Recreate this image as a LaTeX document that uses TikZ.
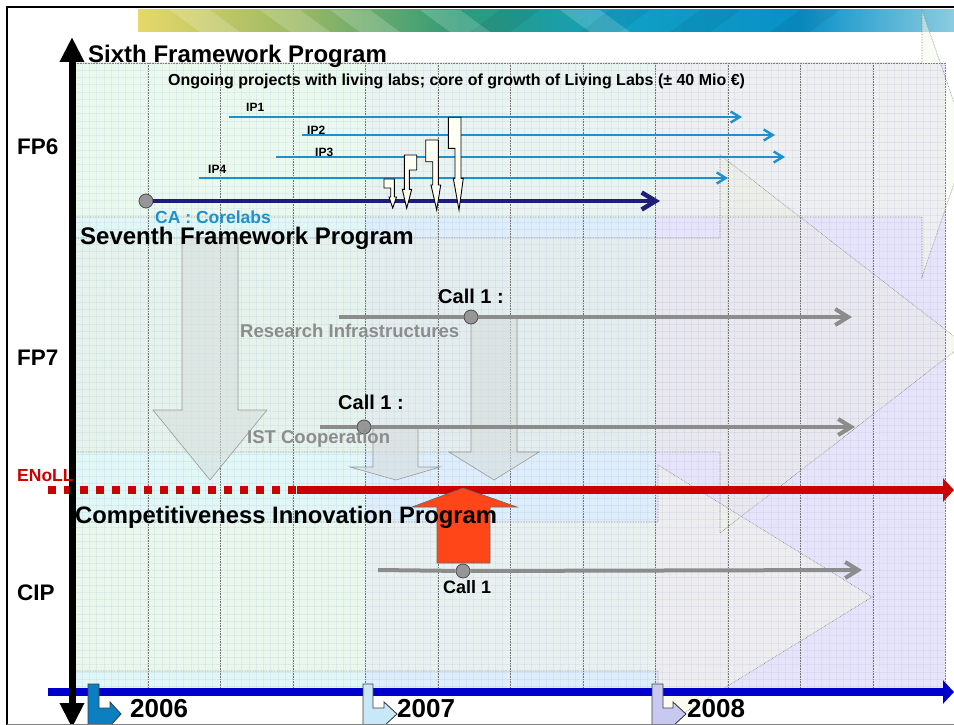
\documentclass[tikz,border=0pt]{standalone}
\usepackage{fontspec}
\setmainfont{Liberation Sans}
\usetikzlibrary{arrows.meta}
\definecolor{ipblue}{RGB}{30,144,208}
\definecolor{canavy}{RGB}{30,30,120}
\definecolor{callgray}{RGB}{140,140,140}
\definecolor{dotgray}{RGB}{150,150,150}
\definecolor{ennred}{RGB}{204,0,0}
\definecolor{axisblue}{RGB}{0,0,204}
\definecolor{cipred}{RGB}{255,70,25}
\definecolor{colA}{HTML}{E0F7F6}
\definecolor{colB}{HTML}{DEEDFA}
\definecolor{colC}{HTML}{E6E4FA}
\definecolor{fadegray}{HTML}{D6DEDC}
\definecolor{fsixfill}{HTML}{F4FBE8}
\definecolor{fsevenfill}{HTML}{ECEFE0}
\definecolor{cipfill}{HTML}{F6F8E2}
\definecolor{bnA}{HTML}{E6D86A}
\definecolor{bnB}{HTML}{9AB864}
\definecolor{bnC}{HTML}{2E9A78}
\definecolor{bnD}{HTML}{10A0C4}
\definecolor{bnE}{HTML}{0890C8}
\definecolor{bnF}{HTML}{8CCCE0}
\definecolor{ysixcol}{RGB}{10,128,192}
\definecolor{ysevencol}{RGB}{200,232,248}
\definecolor{yeightcol}{RGB}{200,200,240}
\newcommand\fsz[1]{\fontsize{#1}{#1}\selectfont\bfseries}
\begin{document}
\begin{tikzpicture}[x=1pt,y=-1pt,
    txt/.style={anchor=base west,inner sep=0pt,font=\fsz{#1}},
    ipline/.style={ipblue,line width=2.4,-{Straight Barb[length=9pt,width=11pt]}},
    callline/.style={callgray,line width=4},
    calltip/.style={-{Straight Barb[length=13pt,width=16pt]}},
    calldot/.style={circle,fill=dotgray,draw=black!70,line width=.8,minimum size=14pt,inner sep=0pt},
    bentarrow/.style={fill=yellow!4,draw=black,line width=.9},
    bigdown/.style={fill=fadegray,fill opacity=.6,draw=black!40,line width=.6},
    progbox/.style={draw=black!50,densely dotted,line width=.6},
    yearmark/.style={fill=#1,draw=black!75,line width=.9},
    gridline/.style={draw=blue!60!black,opacity=.045,line width=.7}]

    \fill[white] (0,0) rectangle (954,725);
    \useasboundingbox (0,0) rectangle (954,725);

    % banner
    \shade[left color=bnA,right color=bnB] (138,10) rectangle (300,32);
    \shade[left color=bnB,right color=bnC] (300,10) rectangle (460,32);
    \shade[left color=bnC,right color=bnD] (460,10) rectangle (620,32);
    \shade[left color=bnD,right color=bnE] (620,10) rectangle (800,32);
    \shade[left color=bnE,right color=bnF] (800,10) rectangle (954,32);
    \foreach \s in {170,260,330,420,560} \fill[white,opacity=.18] (\s,10) -- (\s+40,10) -- (\s+70,32) -- (\s+30,32) -- cycle;
    \foreach \s in {500,610,700,800} \fill[black,opacity=.06] (\s,10) -- (\s+40,10) -- (\s+10,32) -- (\s-30,32) -- cycle;

    % periods
    \fill[colA] (75,63) rectangle (366,690);
    \fill[colB] (366,63) rectangle (655,690);
    \fill[colC] (655,63) rectangle (945,690);
    \fill[fsixfill,fill opacity=.5] (75,63) -- (922,63) -- (922,10) -- (968,143) -- (922,277) -- (922,217) -- (75,217) -- cycle;
    \fill[fsevenfill,fill opacity=.45] (75,238) -- (720,238) -- (720,155) -- (964,344) -- (720,533) -- (720,452) -- (75,452) -- cycle;
    \fill[cipfill,fill opacity=.45] (75,522) -- (658,522) -- (658,465) -- (872,597) -- (658,729) -- (658,671) -- (75,671) -- cycle;
    \foreach \i in {0,...,120} \draw[gridline] ({75+7.25*\i},63) -- ({75+7.25*\i},690);
    \foreach \j in {0,...,86} \draw[gridline] (75,{63+7.25*\j}) -- (945,{63+7.25*\j});
    \foreach \k in {1,...,11} \draw[black!55,densely dotted,line width=.6] ({75.5+72.5*\k},63) -- ({75.5+72.5*\k},690);
    \draw[progbox] (75,63) -- (945,63) -- (945,690);
    \draw[progbox] (75,63) -- (922,63) -- (922,10) -- (968,143) -- (922,277) -- (922,217) -- (75,217);
    \draw[progbox] (75,238) -- (720,238) -- (720,155) -- (964,344) -- (720,533) -- (720,452) -- (75,452);
    \draw[progbox] (75,522) -- (658,522) -- (658,465) -- (872,597) -- (658,729) -- (658,671) -- (75,671);

    % faded down arrows
    \filldraw[bigdown] (182,238) -- (238,238) -- (238,410) -- (267,410) -- (210,480) -- (153,410) -- (182,410) -- cycle;
    \filldraw[bigdown] (471,317) -- (517,317) -- (517,452) -- (539,452) -- (494,480) -- (449,452) -- (471,452) -- cycle;
    \filldraw[bigdown] (373,427) -- (418,427) -- (418,467) -- (440,467) -- (396,480) -- (350,467) -- (373,467) -- cycle;

    % FP6
    \node[txt=24] (sixth) at (88,63) {Sixth Framework Program};
    \node[txt=16] (ongoing) at (168,85) {Ongoing projects with living labs; core of growth of Living Labs (± 40 Mio €)};
    \coordinate (ipone-s) at (229,117);   \coordinate (ipone-e) at (742,117);
    \coordinate (iptwo-s) at (302,135);   \coordinate (iptwo-e) at (775,135);
    \coordinate (ipthree-s) at (276,157); \coordinate (ipthree-e) at (785,157);
    \coordinate (ipfour-s) at (199,178);  \coordinate (ipfour-e) at (728,178);
    \draw[ipline] (ipone-s) -- (ipone-e);
    \draw[ipline] (iptwo-s) -- (iptwo-e);
    \draw[ipline] (ipthree-s) -- (ipthree-e);
    \draw[ipline] (ipfour-s) -- (ipfour-e);
    \node[txt=12] (ipone) at (246,112) {IP1};
    \node[txt=12] (iptwo) at (307,135) {IP2};
    \node[txt=12] (ipthree) at (315,157) {IP3};
    \node[txt=12] (ipfour) at (208,173) {IP4};
    \node[calldot] (cadot) at (146,201) {};
    \coordinate (ca-e) at (660,201);
    \draw[canavy,line width=4.5,-{Straight Barb[length=14pt,width=17pt]}] (cadot) -- (ca-e);
    \filldraw[bentarrow] (384,179) -- (394.3,179) -- (394.3,197) -- (396.5,197) -- (392.7,208) -- (389,197) -- (390.7,197) -- (390.7,188) -- (384,188) -- cycle;
    \filldraw[bentarrow] (404.3,155) -- (416.7,155) -- (416.7,170) -- (409.3,170) -- (409.3,189.3) -- (411.7,189.3) -- (406.7,208.3) -- (402.3,189.3) -- (404.3,189.3) -- cycle;
    \filldraw[bentarrow] (425.7,140) -- (438.3,140) -- (438.3,185) -- (440.7,185) -- (436.7,210) -- (431,185) -- (432.7,185) -- (432.7,161.7) -- (425.7,161.7) -- cycle;
    \filldraw[bentarrow] (448.3,117.3) -- (461,117.3) -- (461,178.3) -- (463.3,178.3) -- (459,210) -- (453.3,178.3) -- (455,178.3) -- (455,148.3) -- (448.3,148.3) -- cycle;
    \node[txt=17.5,text=ipblue] (calab) at (155,223) {CA : Corelabs};

    % FP7
    \node[txt=24] (seventh) at (80,244) {Seventh Framework Program};
    \coordinate (ri-s) at (339,317);  \coordinate (ri-e) at (852,317);
    \node[calldot] (ridot) at (471,317) {};
    \draw[callline] (ri-s) -- (ridot);
    \draw[callline,calltip] (ridot) -- (ri-e);
    \node[txt=20] (callri) at (438,303) {Call 1 :};
    \node[txt=18.5,text=callgray] (ritext) at (240,337) {Research Infrastructures};
    \coordinate (ist-s) at (320,427); \coordinate (ist-e) at (855,427);
    \node[calldot] (istdot) at (364,427) {};
    \draw[callline] (ist-s) -- (istdot);
    \draw[callline,calltip] (istdot) -- (ist-e);
    \node[txt=20] (callist) at (338,409) {Call 1 :};
    \node[txt=18.5,text=callgray] (isttext) at (247,443) {IST Cooperation};

    % ENoLL
    \coordinate (enn-s) at (48,490); \coordinate (enn-m) at (297,490); \coordinate (enn-e) at (954,490);
    \draw[ennred,line width=8,dash pattern=on 7.5pt off 8.5pt] (enn-s) -- (enn-m);
    \draw[ennred,line width=8,-{Triangle[length=11pt,width=23pt]}] (enn-m) -- (enn-e);
    \filldraw[fill=cipred,draw=black!60,line width=.6] (437,563) -- (490,563) -- (490,507) -- (517,507) -- (463,488) -- (412,507) -- (437,507) -- cycle;

    % CIP
    \node[txt=23.8] (compet) at (75,523) {Competitiveness Innovation Program};
    \coordinate (cip-s) at (378,570); \coordinate (cip-e) at (862,570);
    \node[calldot] (cipdot) at (463,571) {};
    \draw[callline] (cip-s) -- (cipdot);
    \draw[callline,calltip] (cipdot) -- (cip-e);
    \node[txt=18] (callcip) at (443,593) {Call 1};

    % time axis
    \coordinate (time-s) at (48,692); \coordinate (time-e) at (954,692);
    \draw[axisblue,line width=8,-{Triangle[length=11pt,width=23pt]}] (time-s) -- (time-e);
    \filldraw[yearmark=ysixcol] (88,684) -- (99,684) -- (99,708) -- (110,708) -- (110,702) -- (121,714) -- (110,726) -- (88,726) -- cycle;
    \filldraw[yearmark=ysevencol] (363,684) -- (373,684) -- (373,708) -- (384,708) -- (384,702) -- (397,714) -- (384,726) -- (363,726) -- cycle;
    \filldraw[yearmark=yeightcol] (652,684) -- (663,684) -- (663,708) -- (673,708) -- (673,702) -- (686,714) -- (673,726) -- (652,726) -- cycle;
    \node[txt=26] (ysix) at (130,717) {2006};
    \node[txt=26] (yseven) at (397,717) {2007};
    \node[txt=26] (yeight) at (687,717) {2008};

    % programme axis and labels
    \coordinate (prog-t) at (72,37); \coordinate (prog-b) at (72,728);
    \draw[line width=7,{Triangle[length=25pt,width=23pt]}-{Triangle[length=25pt,width=23pt]}] (prog-t) -- (prog-b);
    \node[txt=22.5] (fpsix) at (17,154) {FP6};
    \node[txt=22.5] (fpseven) at (17,365) {FP7};
    \node[txt=17.5,text=ennred] (enoll) at (17,481) {ENoLL};
    \node[txt=22.5] (cip) at (17,600) {CIP};
    \draw[line width=2.2] (7,725) -- (7,7) -- (954,7);
    \draw[gray,line width=1] (7,724) -- (954,724);

\end{tikzpicture}
\end{document}
